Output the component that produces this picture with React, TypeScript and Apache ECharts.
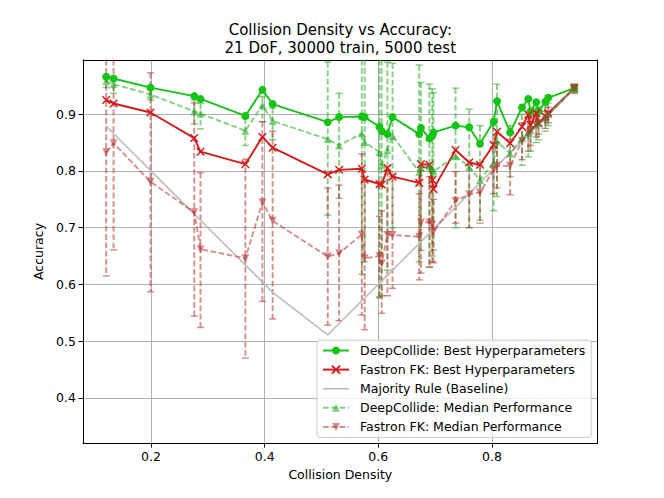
import React, { useEffect, useRef } from 'react';
import * as echarts from 'echarts';

const collisionDensity = [0.121, 0.134, 0.199, 0.276, 0.287, 0.366, 0.396, 0.414, 0.511, 0.531, 0.571, 0.576, 0.602, 0.606, 0.616, 0.625, 0.672, 0.675, 0.690, 0.695, 0.697, 0.736, 0.760, 0.779, 0.803, 0.809, 0.832, 0.853, 0.864, 0.868, 0.878, 0.882, 0.894, 0.899, 0.945];

const deepCollideBest = [0.966, 0.963, 0.947, 0.932, 0.927, 0.897, 0.943, 0.918, 0.886, 0.895, 0.896, 0.895, 0.878, 0.870, 0.865, 0.895, 0.865, 0.876, 0.857, 0.862, 0.868, 0.880, 0.877, 0.848, 0.887, 0.923, 0.868, 0.912, 0.927, 0.905, 0.921, 0.906, 0.922, 0.929, 0.946];

const fastronBest = [0.925, 0.919, 0.903, 0.858, 0.834, 0.812, 0.860, 0.841, 0.794, 0.802, 0.804, 0.785, 0.777, 0.776, 0.805, 0.790, 0.779, 0.812, 0.811, 0.784, 0.768, 0.837, 0.815, 0.811, 0.846, 0.869, 0.849, 0.878, 0.899, 0.881, 0.902, 0.884, 0.896, 0.902, 0.946];

const majorityRule = [0.879, 0.866, 0.801, 0.724, 0.713, 0.634, 0.604, 0.586, 0.511, 0.531, 0.571, 0.576, 0.602, 0.606, 0.616, 0.625, 0.672, 0.675, 0.690, 0.695, 0.697, 0.736, 0.760, 0.779, 0.803, 0.809, 0.832, 0.853, 0.864, 0.868, 0.878, 0.882, 0.894, 0.899, 0.945];

const deepCollideMedian = [0.958, 0.953, 0.935, 0.905, 0.901, 0.871, 0.916, 0.888, 0.856, 0.845, 0.866, 0.851, 0.833, 0.811, 0.837, 0.862, 0.798, 0.806, 0.808, 0.803, 0.799, 0.826, 0.807, 0.784, 0.815, 0.852, 0.831, 0.858, 0.868, 0.872, 0.883, 0.886, 0.893, 0.900, 0.946];
const deepCollideLow = [0.947, 0.937, 0.925, 0.883, 0.874, 0.845, 0.887, 0.855, 0.722, 0.752, 0.618, 0.640, 0.576, 0.580, 0.625, 0.700, 0.640, 0.660, 0.631, 0.650, 0.661, 0.700, 0.700, 0.713, 0.730, 0.755, 0.790, 0.810, 0.825, 0.835, 0.850, 0.855, 0.870, 0.880, 0.938];
const deepCollideHigh = [0.966, 0.964, 0.945, 0.925, 0.919, 0.893, 0.931, 0.911, 0.992, 0.937, 1.060, 1.040, 1.060, 1.050, 0.992, 0.990, 0.987, 0.956, 0.953, 0.945, 0.938, 0.946, 0.909, 0.880, 0.880, 0.953, 0.880, 0.900, 0.905, 0.905, 0.910, 0.912, 0.915, 0.920, 0.953];

const fastronMedian = [0.833, 0.849, 0.781, 0.727, 0.662, 0.646, 0.745, 0.712, 0.649, 0.655, 0.688, 0.646, 0.650, 0.637, 0.687, 0.687, 0.684, 0.709, 0.709, 0.705, 0.693, 0.747, 0.759, 0.762, 0.802, 0.809, 0.809, 0.853, 0.866, 0.872, 0.881, 0.885, 0.890, 0.899, 0.946];
const fastronLow = [0.615, 0.661, 0.587, 0.544, 0.524, 0.470, 0.570, 0.539, 0.528, 0.536, 0.546, 0.520, 0.578, 0.549, 0.580, 0.593, 0.608, 0.620, 0.630, 0.640, 0.638, 0.708, 0.700, 0.708, 0.760, 0.770, 0.758, 0.820, 0.835, 0.845, 0.860, 0.865, 0.875, 0.885, 0.937];
const fastronHigh = [1.060, 1.060, 0.973, 0.920, 0.797, 0.821, 0.887, 0.870, 0.770, 0.775, 0.830, 0.780, 0.720, 0.730, 0.800, 0.790, 0.760, 0.800, 0.790, 0.780, 0.750, 0.799, 0.810, 0.810, 0.840, 0.850, 0.856, 0.885, 0.895, 0.900, 0.900, 0.905, 0.905, 0.912, 0.953];

const xTicks = [0.2, 0.4, 0.6, 0.8];
const yTicks = [0.4, 0.5, 0.6, 0.7, 0.8, 0.9];

const seriesNames = [
  'DeepCollide: Best Hyperparameters',
  'Fastron FK: Best Hyperparameters',
  'Majority Rule (Baseline)',
  'DeepCollide: Median Performance',
  'Fastron FK: Median Performance',
];

const FONT = 'DejaVu Sans';
const GREEN = '#16c416';
const RED = '#d41c1c';
const GRAY = '#bdbdbd';
const GREEN_MED = '#22aa22';
const RED_MED = '#b43232';
const MED_OPACITY = 0.55;
const LW = 1.9;
const DASH = [5.8, 2.5];

const pairs = (ys: number[]) => collisionDensity.map((x, i) => [x, ys[i]]);
const triples = (lo: number[], hi: number[]) => collisionDensity.map((x, i) => [x, lo[i], hi[i]]);

function makeErrRender(color: string, opacity: number) {
  return (params: any, api: any) => {
    const x = api.value(0);
    const lo = api.value(1);
    const hi = api.value(2);
    const cs = params.coordSys;
    const pLo = api.coord([x, lo]);
    const pHi = api.coord([x, hi]);
    const top = cs.y;
    const bottom = cs.y + cs.height;
    let y1 = pHi[1];
    let y2 = pLo[1];
    const capTop = y1 >= top;
    const capBot = y2 <= bottom;
    y1 = Math.max(y1, top);
    y2 = Math.min(y2, bottom);
    const cx = pLo[0];
    const w = 3.6;
    const children: any[] = [
      {
        type: 'line',
        shape: { x1: cx, y1, x2: cx, y2 },
        style: { stroke: color, lineWidth: LW, lineDash: DASH, opacity },
      },
    ];
    if (capTop) {
      children.push({
        type: 'line',
        shape: { x1: cx - w, y1, x2: cx + w, y2: y1 },
        style: { stroke: color, lineWidth: 1.4, opacity },
      });
    }
    if (capBot) {
      children.push({
        type: 'line',
        shape: { x1: cx - w, y1: y2, x2: cx + w, y2 },
        style: { stroke: color, lineWidth: 1.4, opacity },
      });
    }
    return { type: 'group', children };
  };
}

const X_MIN = 0.0802;
const X_MAX = 0.986;
const Y_MIN = 0.32;
const Y_MAX = 0.996;

// thin horizontal bar, with degenerate slivers at top and bottom to keep the icon box height
const LINE_ICON = 'path://M0,0L26,0L26,0.01L0,0.01Z M0,4.2L26,4.2L26,5.8L0,5.8Z M0,10L26,10L26,10.01L0,10.01Z';

export default function App() {
  const ref = useRef<HTMLDivElement>(null);
  useEffect(() => {
    if (!ref.current) return;
    const chart = echarts.init(ref.current, undefined, { renderer: 'svg' });
    const axisText = { fontFamily: FONT, fontSize: 12.5, color: '#000' };
    const option: any = {
      animation: false,
      backgroundColor: '#fff',
      textStyle: { fontFamily: FONT },
      grid: { left: 83, right: 66.4, top: 59.8, bottom: 54.8, containLabel: false },
      graphic: [
        {
          type: 'text',
          x: 340.3,
          y: 30,
          style: { text: 'Collision Density vs Accuracy:', align: 'center', verticalAlign: 'middle', fontFamily: FONT, fontSize: 15, fill: '#000' },
        },
        {
          type: 'text',
          x: 340.3,
          y: 47.5,
          style: { text: '21 DoF, 30000 train, 5000 test', align: 'center', verticalAlign: 'middle', fontFamily: FONT, fontSize: 15, fill: '#000' },
        },
      ],
      legend: {
        orient: 'vertical',
        left: 317,
        top: 340,
        padding: [4, 6, 4, 5],
        itemWidth: 26,
        itemHeight: 10,
        itemGap: 6.1,
        backgroundColor: 'rgba(255,255,255,0.8)',
        borderColor: '#cccccc',
        borderWidth: 1,
        borderRadius: 3,
        selectedMode: false,
        textStyle: { fontFamily: FONT, fontSize: 12.5, color: '#000', padding: [0, 0, 0, 6] },
        data: [
          seriesNames[0],
          seriesNames[1],
          { name: seriesNames[2], icon: LINE_ICON },
          seriesNames[3],
          seriesNames[4],
        ],
      },
      xAxis: [
        {
          type: 'value',
          min: X_MIN,
          max: X_MAX,
          position: 'bottom',
          name: 'Collision Density',
          nameLocation: 'middle',
          nameGap: 21,
          nameTextStyle: axisText,
          axisLine: { show: true, onZero: false, lineStyle: { color: '#000', width: 1 } },
          axisTick: { show: true, inside: false, length: 4.4, customValues: xTicks, lineStyle: { color: '#000', width: 1 } },
          axisLabel: { show: true, customValues: xTicks, margin: 7, ...axisText, formatter: (v: number) => v.toFixed(1) },
          splitLine: { show: true, lineStyle: { color: '#b0b0b0', width: 1 } },
        },
        {
          type: 'value',
          min: X_MIN,
          max: X_MAX,
          position: 'top',
          axisLine: { show: true, onZero: false, lineStyle: { color: '#000', width: 1 } },
          axisTick: { show: false },
          axisLabel: { show: false },
          splitLine: { show: false },
        },
      ],
      yAxis: [
        {
          type: 'value',
          min: Y_MIN,
          max: Y_MAX,
          position: 'left',
          name: 'Accuracy',
          nameLocation: 'middle',
          nameGap: 31,
          nameTextStyle: axisText,
          axisLine: { show: true, onZero: false, lineStyle: { color: '#000', width: 1 } },
          axisTick: { show: true, inside: false, length: 4.4, customValues: yTicks, lineStyle: { color: '#000', width: 1 } },
          axisLabel: { show: true, customValues: yTicks, margin: 7, ...axisText, formatter: (v: number) => v.toFixed(1) },
          splitLine: { show: true, lineStyle: { color: '#b0b0b0', width: 1 } },
        },
        {
          type: 'value',
          min: Y_MIN,
          max: Y_MAX,
          position: 'right',
          axisLine: { show: true, onZero: false, lineStyle: { color: '#000', width: 1 } },
          axisTick: { show: false },
          axisLabel: { show: false },
          splitLine: { show: false },
        },
      ],
      series: [
        {
          name: seriesNames[0],
          type: 'line',
          data: pairs(deepCollideBest),
          symbol: 'circle',
          symbolSize: 8,
          showAllSymbol: true,
          lineStyle: { color: GREEN, width: LW },
          itemStyle: { color: GREEN },
          clip: true,
          z: 2,
        },
        {
          name: seriesNames[1],
          type: 'line',
          data: pairs(fastronBest),
          symbol: 'path://M0,0L10,10M10,0L0,10',
          symbolSize: 7.5,
          showAllSymbol: true,
          lineStyle: { color: RED, width: LW },
          itemStyle: { color: RED, borderColor: RED, borderWidth: 1.5 },
          clip: true,
          z: 2,
        },
        {
          name: seriesNames[2],
          type: 'line',
          data: pairs(majorityRule),
          symbol: 'none',
          lineStyle: { color: GRAY, width: 1.6 },
          itemStyle: { color: GRAY },
          clip: true,
          z: 2,
        },
        {
          name: 'dcErr',
          type: 'custom',
          data: triples(deepCollideLow, deepCollideHigh),
          encode: { x: 0, y: [1, 2] },
          renderItem: makeErrRender(GREEN_MED, MED_OPACITY),
          silent: true,
          z: 2,
        },
        {
          name: seriesNames[3],
          type: 'line',
          data: pairs(deepCollideMedian),
          symbol: 'triangle',
          symbolSize: 8,
          showAllSymbol: true,
          lineStyle: { color: GREEN_MED, width: LW, type: DASH, opacity: MED_OPACITY },
          itemStyle: { color: GREEN_MED, opacity: MED_OPACITY },
          clip: true,
          z: 2,
        },
        {
          name: 'fkErr',
          type: 'custom',
          data: triples(fastronLow, fastronHigh),
          encode: { x: 0, y: [1, 2] },
          renderItem: makeErrRender(RED_MED, MED_OPACITY),
          silent: true,
          z: 2,
        },
        {
          name: seriesNames[4],
          type: 'line',
          data: pairs(fastronMedian),
          symbol: 'path://M0,0L10,0L5,8.66Z',
          symbolSize: 8,
          showAllSymbol: true,
          lineStyle: { color: RED_MED, width: LW, type: DASH, opacity: MED_OPACITY },
          itemStyle: { color: RED_MED, opacity: MED_OPACITY },
          clip: true,
          z: 2,
        },
      ],
    };
    chart.setOption(option);
    return () => chart.dispose();
  }, []);
  return <div ref={ref} style={{ position: 'fixed', left: 0, top: 0, width: 664, height: 498, background: '#fff' }} />;
}
